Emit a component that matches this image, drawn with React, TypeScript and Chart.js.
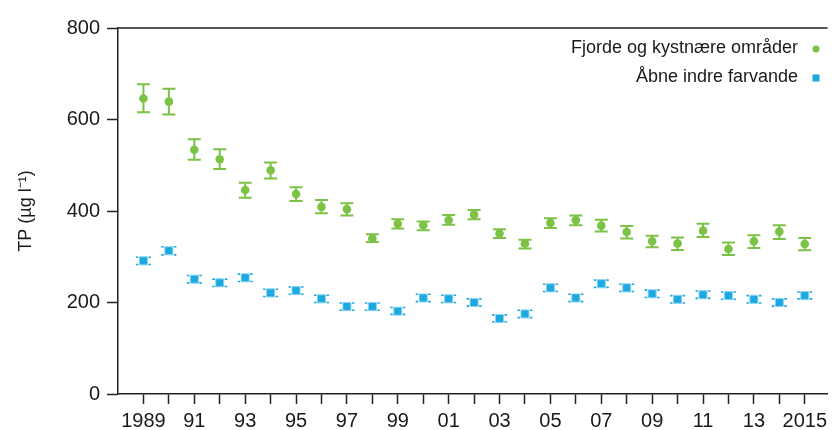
import { useEffect, useRef } from "react";
import { Chart, registerables } from "chart.js";

Chart.register(...registerables);

const years = [
  1989, 1990, 1991, 1992, 1993, 1994, 1995, 1996, 1997, 1998, 1999, 2000, 2001, 2002,
  2003, 2004, 2005, 2006, 2007, 2008, 2009, 2010, 2011, 2012, 2013, 2014, 2015,
];
const yearLabels = [
  "1989", "", "91", "", "93", "", "95", "", "97", "", "99", "", "01", "",
  "03", "", "05", "", "07", "", "09", "", "11", "", "13", "", "2015",
];
const yTicks = [0, 200, 400, 600, 800];

const fjordLabel = "Fjorde og kystnære områder";
const fjordMean = [646, 639, 534, 513, 446, 489, 437, 409, 404, 340, 372, 369, 380, 392, 351, 329, 374, 380, 368, 354, 334, 329, 357, 317, 334, 355, 328];
const fjordLow = [616, 611, 512, 492, 429, 471, 422, 395, 390, 332, 362, 358, 370, 382, 341, 318, 363, 369, 355, 340, 321, 315, 343, 304, 319, 339, 314];
const fjordHigh = [677, 667, 557, 535, 462, 506, 452, 424, 417, 349, 382, 377, 391, 402, 360, 337, 384, 390, 381, 367, 346, 342, 372, 331, 347, 369, 341];

const openLabel = "Åbne indre farvande";
const openMean = [291, 313, 251, 243, 254, 221, 226, 208, 191, 191, 181, 210, 208, 200, 165, 175, 232, 210, 241, 232, 219, 207, 217, 215, 207, 200, 215];
const openLow = [283, 304, 243, 235, 246, 213, 218, 200, 183, 183, 174, 202, 200, 192, 158, 167, 224, 202, 233, 224, 211, 199, 209, 207, 199, 192, 208];
const openHigh = [299, 322, 259, 251, 262, 229, 234, 216, 199, 199, 189, 218, 216, 208, 173, 183, 240, 218, 249, 240, 227, 215, 225, 223, 215, 208, 223];

const GREEN = "#7cc245";
const BLUE = "#1ca8e0";
const FONT = "'Liberation Sans', Arial, sans-serif";
const AXIS = "#222";

// draws error bars under the points; capGap leaves the middle of the cap open
const errorBars = {
  id: "errorBars",
  beforeDatasetsDraw(chart: any) {
    const ctx = chart.ctx;
    const y = chart.scales.y;
    chart.data.datasets.forEach((ds: any, i: number) => {
      const meta = chart.getDatasetMeta(i);
      ctx.save();
      ctx.strokeStyle = ds.errColor;
      ctx.lineWidth = ds.errWidth;
      meta.data.forEach((pt: any, j: number) => {
        const top = y.getPixelForValue(ds.errHigh[j]);
        const bot = y.getPixelForValue(ds.errLow[j]);
        const hw = ds.capWidth / 2;
        const g = ds.capGap / 2;
        ctx.beginPath();
        if (!g) {
          ctx.moveTo(pt.x, top);
          ctx.lineTo(pt.x, bot);
        }
        for (const cy of [top, bot]) {
          ctx.moveTo(pt.x - hw, cy);
          ctx.lineTo(pt.x - g, cy);
          ctx.moveTo(pt.x + g, cy);
          ctx.lineTo(pt.x + hw, cy);
        }
        ctx.stroke();
      });
      ctx.restore();
    });
  },
};

// top frame line + legend with marker after the text
const frameAndLegend = {
  id: "frameAndLegend",
  afterDraw(chart: any) {
    const ctx = chart.ctx;
    const a = chart.chartArea;
    ctx.save();
    ctx.strokeStyle = AXIS;
    ctx.lineWidth = 1.5;
    ctx.beginPath();
    ctx.moveTo(a.left, a.top);
    ctx.lineTo(a.right, a.top);
    ctx.stroke();

    ctx.font = `18px ${FONT}`;
    ctx.fillStyle = "#1a1a1a";
    ctx.textAlign = "right";
    ctx.textBaseline = "middle";
    const textRight = 798;
    const mx = 816;
    ctx.fillText(fjordLabel, textRight, 48);
    ctx.fillStyle = GREEN;
    ctx.beginPath();
    ctx.arc(mx, 49, 3.5, 0, Math.PI * 2);
    ctx.fill();

    ctx.fillStyle = "#1a1a1a";
    ctx.fillText(openLabel, textRight, 77);
    ctx.fillStyle = BLUE;
    ctx.fillRect(mx - 3.5, 78 - 3.5, 7, 7);
    ctx.restore();
  },
};

export default function App() {
  const ref = useRef<HTMLCanvasElement>(null);

  useEffect(() => {
    if (!ref.current) return;
    const chart = new Chart(ref.current, {
      type: "scatter",
      data: {
        datasets: [
          {
            label: fjordLabel,
            data: years.map((yr, i) => ({ x: yr, y: fjordMean[i] })),
            pointStyle: "circle",
            pointRadius: 4.3,
            pointBackgroundColor: GREEN,
            pointBorderWidth: 0,
            errLow: fjordLow,
            errHigh: fjordHigh,
            errColor: GREEN,
            errWidth: 2,
            capWidth: 13,
            capGap: 0,
          } as any,
          {
            label: openLabel,
            data: years.map((yr, i) => ({ x: yr, y: openMean[i] })),
            pointStyle: "rect",
            pointRadius: 5.7,
            pointBackgroundColor: BLUE,
            pointBorderColor: "#8fd4f1",
            pointBorderWidth: 1,
            errLow: openLow,
            errHigh: openHigh,
            errColor: BLUE,
            errWidth: 1.6,
            capWidth: 15,
            capGap: 10,
          } as any,
        ],
      },
      options: {
        animation: false,
        responsive: true,
        maintainAspectRatio: false,
        layout: { autoPadding: false, padding: { top: 28, right: 0, left: 0, bottom: 0 } },
        plugins: {
          legend: { display: false },
          tooltip: { enabled: false },
        },
        scales: {
          x: {
            type: "linear",
            min: 1988,
            max: 2015.9,
            afterBuildTicks: (scale: any) => {
              scale.ticks = years.map((v) => ({ value: v }));
            },
            afterFit: (scale: any) => {
              scale.height = 36;
            },
            grid: {
              display: true,
              drawOnChartArea: false,
              drawTicks: true,
              tickLength: 10,
              tickColor: AXIS,
              tickWidth: 1.5,
            },
            border: { display: true, color: AXIS, width: 1.5 },
            ticks: {
              autoSkip: false,
              maxRotation: 0,
              padding: 5,
              color: "#1a1a1a",
              font: { family: FONT, size: 20 },
              callback: (v: any) => {
                const i = years.indexOf(Number(v));
                return i >= 0 ? yearLabels[i] : "";
              },
            },
          },
          y: {
            min: 0,
            max: 800,
            afterBuildTicks: (scale: any) => {
              scale.ticks = yTicks.map((v) => ({ value: v }));
            },
            afterFit: (scale: any) => {
              scale.width = 118;
            },
            grid: {
              display: true,
              drawOnChartArea: false,
              drawTicks: true,
              tickLength: 11,
              tickColor: AXIS,
              tickWidth: 1.5,
            },
            border: { display: true, color: AXIS, width: 1.5 },
            ticks: {
              padding: 7,
              color: "#1a1a1a",
              font: { family: FONT, size: 20 },
            },
            title: {
              display: true,
              text: "TP (µg l⁻¹)",
              color: "#1a1a1a",
              font: { family: FONT, size: 18 },
              padding: { top: 15, bottom: 0 },
            },
          },
        },
      },
      plugins: [errorBars, frameAndLegend],
    });
    return () => chart.destroy();
  }, []);

  return (
    <div style={{ position: "absolute", left: 0, top: 0, width: 832, height: 430, background: "#fff" }}>
      <canvas ref={ref}></canvas>
    </div>
  );
}
